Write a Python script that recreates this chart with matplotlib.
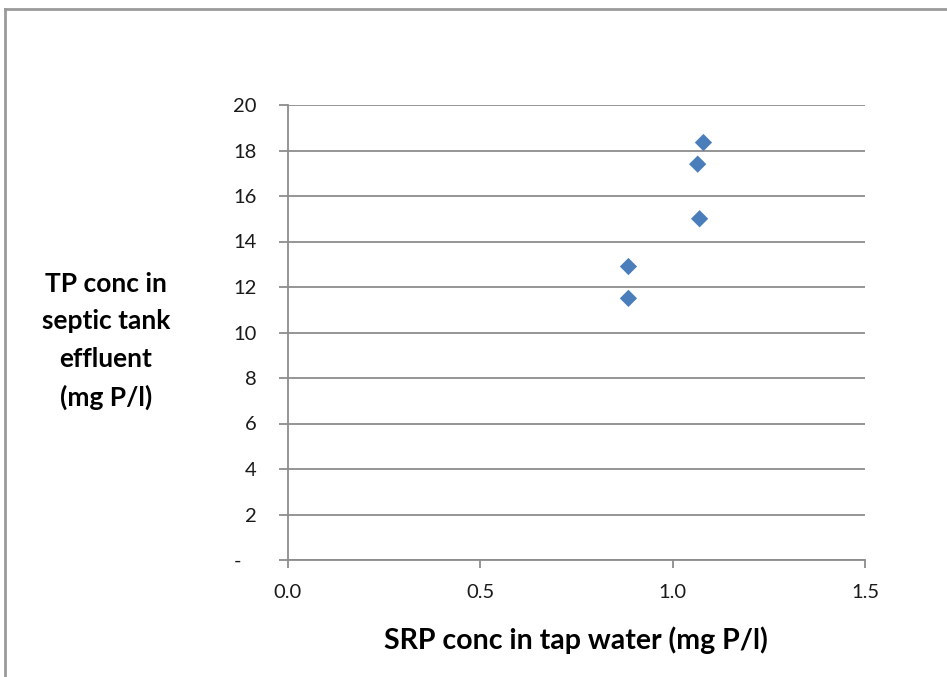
import matplotlib
matplotlib.use("Agg")
import matplotlib.pyplot as plt
from matplotlib.lines import Line2D
from matplotlib.ticker import FixedLocator, FuncFormatter

# Data
srp_tap = [0.885, 0.885, 1.065, 1.070, 1.080]
tp_effluent = [12.9, 11.5, 17.4, 15.0, 18.35]

x_ticks = [0.0, 0.5, 1.0, 1.5]
y_ticks = [0, 2, 4, 6, 8, 10, 12, 14, 16, 18, 20]

plt.rcParams['font.family'] = ['Lato', 'DejaVu Sans']

fig = plt.figure(figsize=(9.47, 6.77), dpi=100)
ax = fig.add_axes([288/947, 1-560/677, (865-288)/947, (560-105)/677])

ax.scatter(srp_tap, tp_effluent, marker='D', s=8.8**2, color='#4a7ebb',
           edgecolors='none', zorder=3, clip_on=False)

ax.set_xlim(0, 1.5)
ax.set_ylim(0, 20)
ax.xaxis.set_major_locator(FixedLocator(x_ticks))
ax.yaxis.set_major_locator(FixedLocator(y_ticks))
ax.xaxis.set_major_formatter(FuncFormatter(lambda v, p: f"{v:.1f}"))
ax.yaxis.set_major_formatter(FuncFormatter(lambda v, p: "-   " if v == 0 else f"{int(v)}"))

gcol = '#8c8c8c'
ax.grid(axis='y', color=gcol, linewidth=1.3, zorder=1)
ax.set_axisbelow(True)
for s in ['top', 'right']:
    ax.spines[s].set_visible(False)
for s in ['left', 'bottom']:
    ax.spines[s].set_color(gcol)
    ax.spines[s].set_linewidth(1.3)

ax.tick_params(axis='y', direction='out', length=6.5, width=1.3, color=gcol,
               pad=16, labelsize=14.5, labelcolor='#1a1a1a')
ax.tick_params(axis='x', direction='out', length=6, width=1.3, color=gcol,
               pad=11, labelsize=14.5, labelcolor='#1a1a1a')

fig.text(106/947, 1-341/677, "TP conc in\nseptic tank\neffluent\n(mg P/l)",
         ha='center', va='center', fontsize=19, fontweight='bold',
         linespacing=1.68, color='#000000')
fig.text(576/947, 1-640/677, "SRP conc in tap water (mg P/l)",
         ha='center', va='center', fontsize=20.5, fontweight='bold', color='#000000')

# outer chart border (top and left visible)
fig.add_artist(Line2D([5/947, 5/947], [0, 1-9/677], transform=fig.transFigure,
                      color='#9a9a9a', linewidth=2))
fig.add_artist(Line2D([5/947, 1], [1-9/677, 1-9/677], transform=fig.transFigure,
                      color='#9a9a9a', linewidth=2))

fig.savefig("out.png", dpi=100)
